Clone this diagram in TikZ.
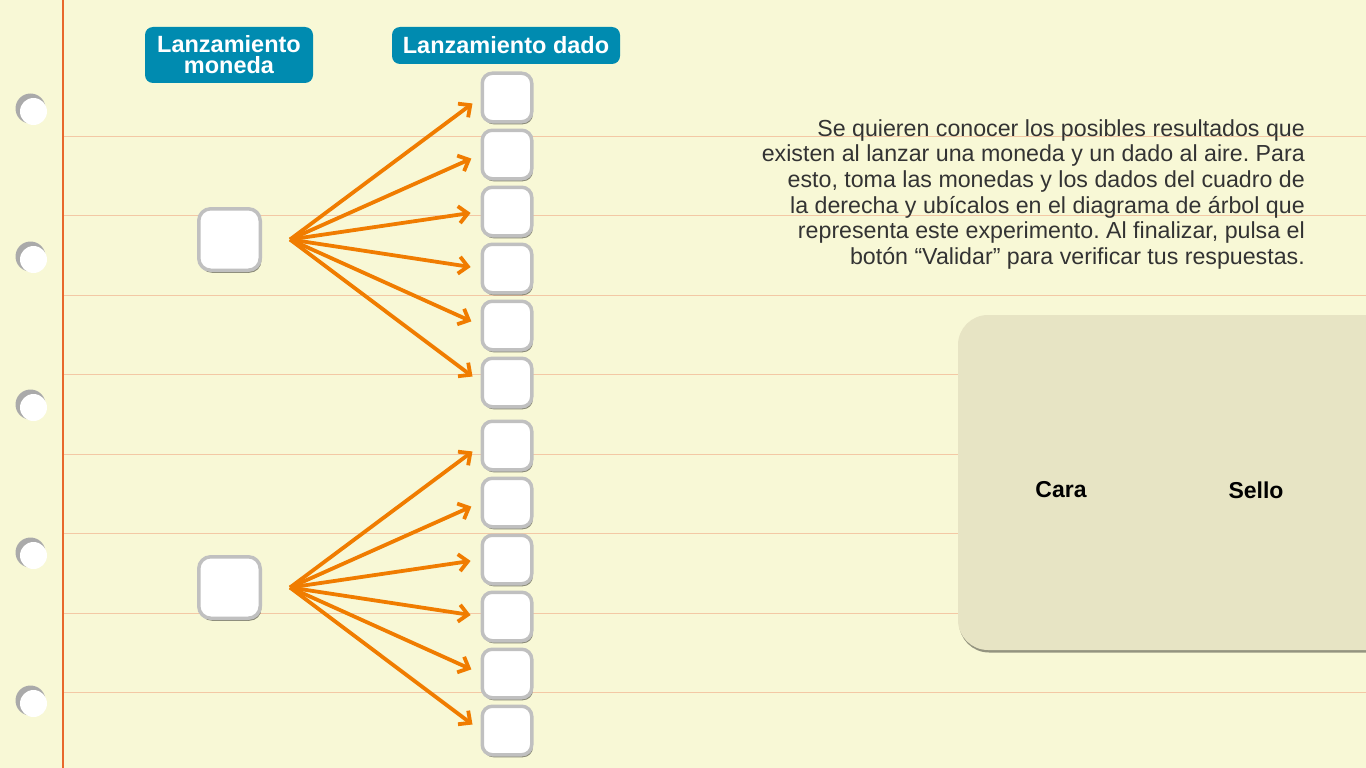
\documentclass[tikz,border=0pt]{standalone}
\usepackage{fontspec}
\setmainfont{Liberation Sans}
\usetikzlibrary{arrows.meta,shadows,calc}
\definecolor{paper}{RGB}{248,248,214}
\definecolor{rulec}{RGB}{243,200,165}
\definecolor{marginc}{RGB}{232,104,44}
\definecolor{holegray}{RGB}{170,170,170}
\definecolor{teal}{RGB}{0,139,176}
\definecolor{arrowc}{RGB}{240,124,0}
\definecolor{panelc}{RGB}{231,228,196}
\definecolor{boxline}{RGB}{192,192,192}
\definecolor{textc}{RGB}{51,51,51}
\tikzset{
  rulestyle/.style={draw=rulec, line width=1pt},
  header/.style={fill=teal, rounded corners=8pt, text=white, inner sep=0pt,
    font=\bfseries\fontsize{23.5}{21}\selectfont, align=center},
  sqbox/.style={draw=boxline, fill=white, line width=3.5pt, rounded corners=10pt,
    drop shadow={shadow xshift=1.2pt, shadow yshift=-2.5pt, fill=black, opacity=0.45}},
  coinbox/.style={sqbox, minimum width=61.5pt, minimum height=61.5pt, rounded corners=12pt},
  diebox/.style={sqbox, minimum width=49.5pt, minimum height=48.5pt},
  arr/.style={draw=arrowc, line width=3.8pt, -{Straight Barb[length=9pt,width=17pt]}, shorten >=10pt},
  bodytext/.style={text=textc, inner sep=0pt, align=right, font=\frenchspacing\fontsize{23.2}{25.7}\selectfont},
  lbl/.style={text=black, inner sep=0pt, font=\bfseries\fontsize{23}{25}\selectfont}
}
\begin{document}
\begin{tikzpicture}[x=1pt,y=-1pt]
\clip (0,0) rectangle (1366,768);
\fill[paper] (0,0) rectangle (1366,768);
% ruled lines
\foreach \k in {0,...,7} \draw[rulestyle] (64,136+79.5*\k) -- (1366,136+79.5*\k);
% margin
\draw[marginc, line width=2.8pt] (63,0) -- (63,768);
% holes
\foreach \k in {0,...,4} {
  \fill[holegray] (30.5,108.5+148*\k) circle[radius=15];
  \fill[white] (33.5,111.5+148*\k) circle[radius=13.5];
}
% headers
\node[header, minimum width=168pt, minimum height=56pt] (h1) at (229,55) {Lanzamiento\\moneda};
\node[header, minimum width=228pt, minimum height=37pt] (h2) at (506,45.5) {Lanzamiento dado};
% coin boxes
\node[coinbox] (coin1) at (229.5,239.5) {};
\node[coinbox] (coin2) at (229.5,587.5) {};
% die boxes
\foreach \i in {1,...,6} \node[diebox] (d\i) at (507,97.5+57*\i-57) {};
\foreach \i in {7,...,12} \node[diebox] (d\i) at (507,445.5+57*\i-399) {};
% origins of branches
\coordinate (o1) at ($(coin1.east)+(28,0)$);
\coordinate (o2) at ($(coin2.east)+(28,0)$);
\foreach \i in {1,...,6} \draw[arr] (o1) -- (d\i.west);
\foreach \i in {7,...,12} \draw[arr] (o2) -- (d\i.west);
% instructions
\node[bodytext, anchor=north east] (intro) at (1305,119) {Se quieren conocer los posibles resultados que\\existen al lanzar una moneda y un dado al aire. Para\\esto, toma las monedas y los dados del cuadro de\\la derecha y ubícalos en el diagrama de árbol que\\representa este experimento. Al finalizar, pulsa el\\botón “Validar” para verificar tus respuestas.};
% panel
\path[fill=panelc, rounded corners=30pt, drop shadow={shadow xshift=1pt, shadow yshift=-2.5pt, fill=black, opacity=0.4}] (958,315) rectangle (1420,650);
\node[lbl] (cara) at (1061,490) {Cara};
\node[lbl] (sello) at (1256,490) {Sello};
\end{tikzpicture}
\end{document}
